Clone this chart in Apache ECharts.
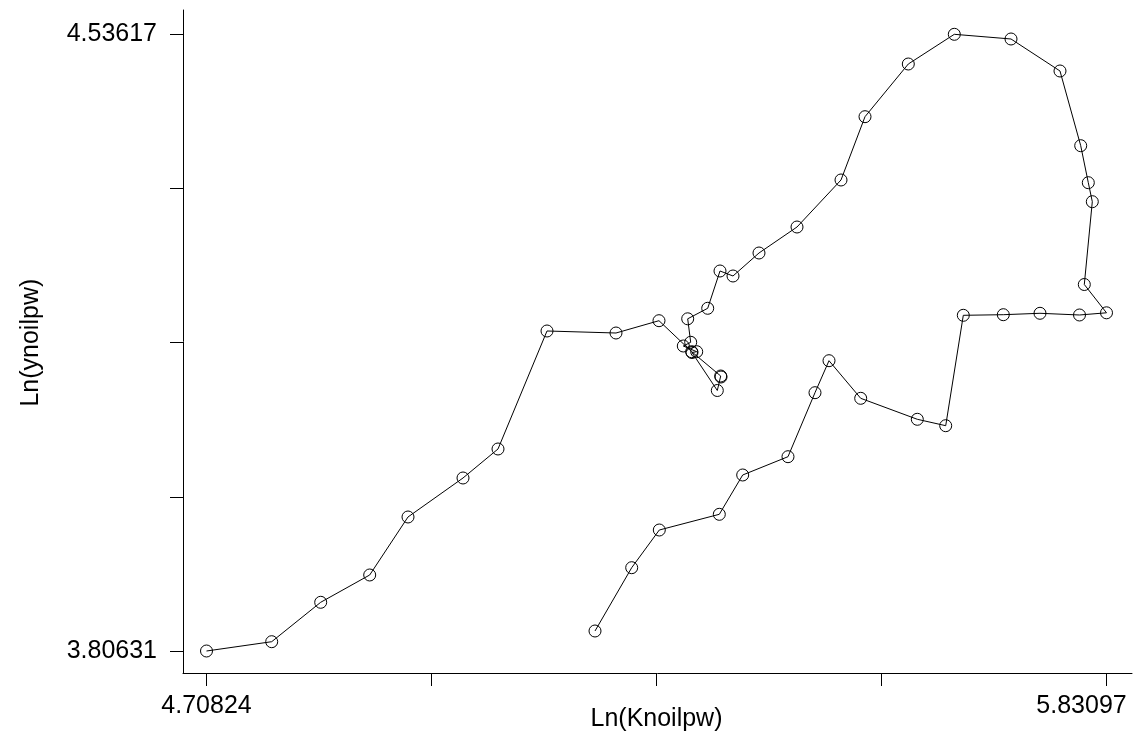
<!DOCTYPE html>
<html>
<head>
<meta charset="utf-8">
<script src="https://cdn.jsdelivr.net/npm/echarts@6/dist/echarts.min.js"></script>
<style>
html, body { margin: 0; padding: 0; background: #fff; }
#main { width: 1135px; height: 751px; }
</style>
</head>
<body>
<div id="main"></div>
<script>
// Ln(Knoilpw) / Ln(ynoilpw), in path order
var lnK = [4.70824, 4.78958, 4.85070, 4.91183, 4.95961, 5.02822, 5.07188, 5.13301, 5.21908, 5.27272,
  5.31352, 5.34970, 5.35007, 5.34545, 5.31389, 5.31976, 5.30304, 5.31227, 5.30853, 5.33348,
  5.34882, 5.36504, 5.39747, 5.44488, 5.49977, 5.52971, 5.58372, 5.64111, 5.71184, 5.77296,
  5.79879, 5.80827, 5.81326, 5.80328, 5.83097, 5.79729, 5.74801, 5.70223, 5.65233, 5.63038,
  5.59495, 5.52434, 5.48480, 5.46733, 5.43364, 5.37714, 5.34795, 5.27310, 5.23867, 5.19289];
var lnY = [3.80631, 3.81732, 3.86395, 3.89626, 3.96490, 4.01106, 4.04538, 4.18503, 4.18266, 4.19722,
  4.16053, 4.13177, 4.13059, 4.11461, 4.15958, 4.16053, 4.16728, 4.17166, 4.19947, 4.21190,
  4.25604, 4.25012, 4.27734, 4.30811, 4.36374, 4.43865, 4.50102, 4.53617, 4.53061, 4.49274,
  4.40433, 4.36054, 4.33806, 4.24006, 4.20657, 4.20397, 4.20598, 4.20432, 4.20361, 4.07295,
  4.08053, 4.10538, 4.14988, 4.11201, 4.03626, 4.01461, 3.96809, 3.94951, 3.90490, 3.82998];

var xTicks = [4.70824, 4.9889225, 5.269605, 5.5502875, 5.83097];
var yTicks = [3.80631, 3.988775, 4.17124, 4.353705, 4.53617];
var xLabels = [4.70824, 5.83097];
var yLabels = [3.80631, 4.53617];

var font = 'Liberation Sans';
var pts = [];
for (var i = 0; i < lnK.length; i++) pts.push([lnK[i], lnY[i]]);

var myChart = echarts.init(document.getElementById('main'));

option = {
  backgroundColor: '#fff',
  animation: false,
  grid: [
    // data area
    { left: 206.5, right: 28.5, top: 34.3, bottom: 100, containLabel: false, outerBoundsMode: 'none' },
    // frame for the two long axis lines
    { left: 183, right: 3, top: 10, bottom: 78, containLabel: false, outerBoundsMode: 'none' }
  ],
  xAxis: [{
    gridIndex: 0,
    type: 'value',
    min: xTicks[0],
    max: xTicks[4],
    offset: 22,
    axisLine: { show: false, onZero: false },
    axisTick: { show: true, length: 13, customValues: xTicks, lineStyle: { color: '#000', width: 1 } },
    splitLine: { show: false },
    axisLabel: {
      customValues: xLabels,
      margin: 21,
      formatter: function (v) {
        if (v === xLabels[1]) return '{a|' + v.toFixed(5) + '}{b| }';
        return '{a|' + v.toFixed(5) + '}';
      },
      rich: {
        a: { fontSize: 25, fontFamily: font, color: '#000' },
        b: { width: 50, fontSize: 25 }
      }
    },
    name: 'Ln(Knoilpw)',
    nameLocation: 'middle',
    nameGap: 34,
    nameMoveOverlap: false,
    nameTextStyle: { fontSize: 25, fontFamily: font, color: '#000' }
  }, {
    gridIndex: 1,
    type: 'value',
    min: 0,
    max: 1,
    axisLine: { show: true, onZero: false, lineStyle: { color: '#000', width: 1 } },
    axisTick: { show: false },
    axisLabel: { show: false },
    splitLine: { show: false }
  }],
  yAxis: [{
    gridIndex: 0,
    type: 'value',
    min: yTicks[0],
    max: yTicks[4],
    offset: 23.5,
    axisLine: { show: false, onZero: false },
    axisTick: { show: true, length: 13, customValues: yTicks, lineStyle: { color: '#000', width: 1 } },
    splitLine: { show: false },
    axisLabel: {
      customValues: yLabels,
      margin: 26,
      fontSize: 25,
      fontFamily: font,
      color: '#000',
      formatter: function (v) { return v.toFixed(5); }
    },
    name: 'Ln(ynoilpw)',
    nameLocation: 'middle',
    nameGap: 139,
    nameMoveOverlap: false,
    nameTextStyle: { fontSize: 25, fontFamily: font, color: '#000' }
  }, {
    gridIndex: 1,
    type: 'value',
    min: 0,
    max: 1,
    axisLine: { show: true, onZero: false, lineStyle: { color: '#000', width: 1 } },
    axisTick: { show: false },
    axisLabel: { show: false },
    splitLine: { show: false }
  }],
  series: [{
    type: 'line',
    xAxisIndex: 0,
    yAxisIndex: 0,
    data: pts,
    clip: false,
    symbol: 'circle',
    symbolSize: 12,
    showAllSymbol: true,
    itemStyle: { color: 'rgba(0,0,0,0)', borderColor: '#000', borderWidth: 1 },
    lineStyle: { color: '#000', width: 1 },
    emphasis: { disabled: true }
  }]
};
myChart.setOption(option);
</script>
</body>
</html>
